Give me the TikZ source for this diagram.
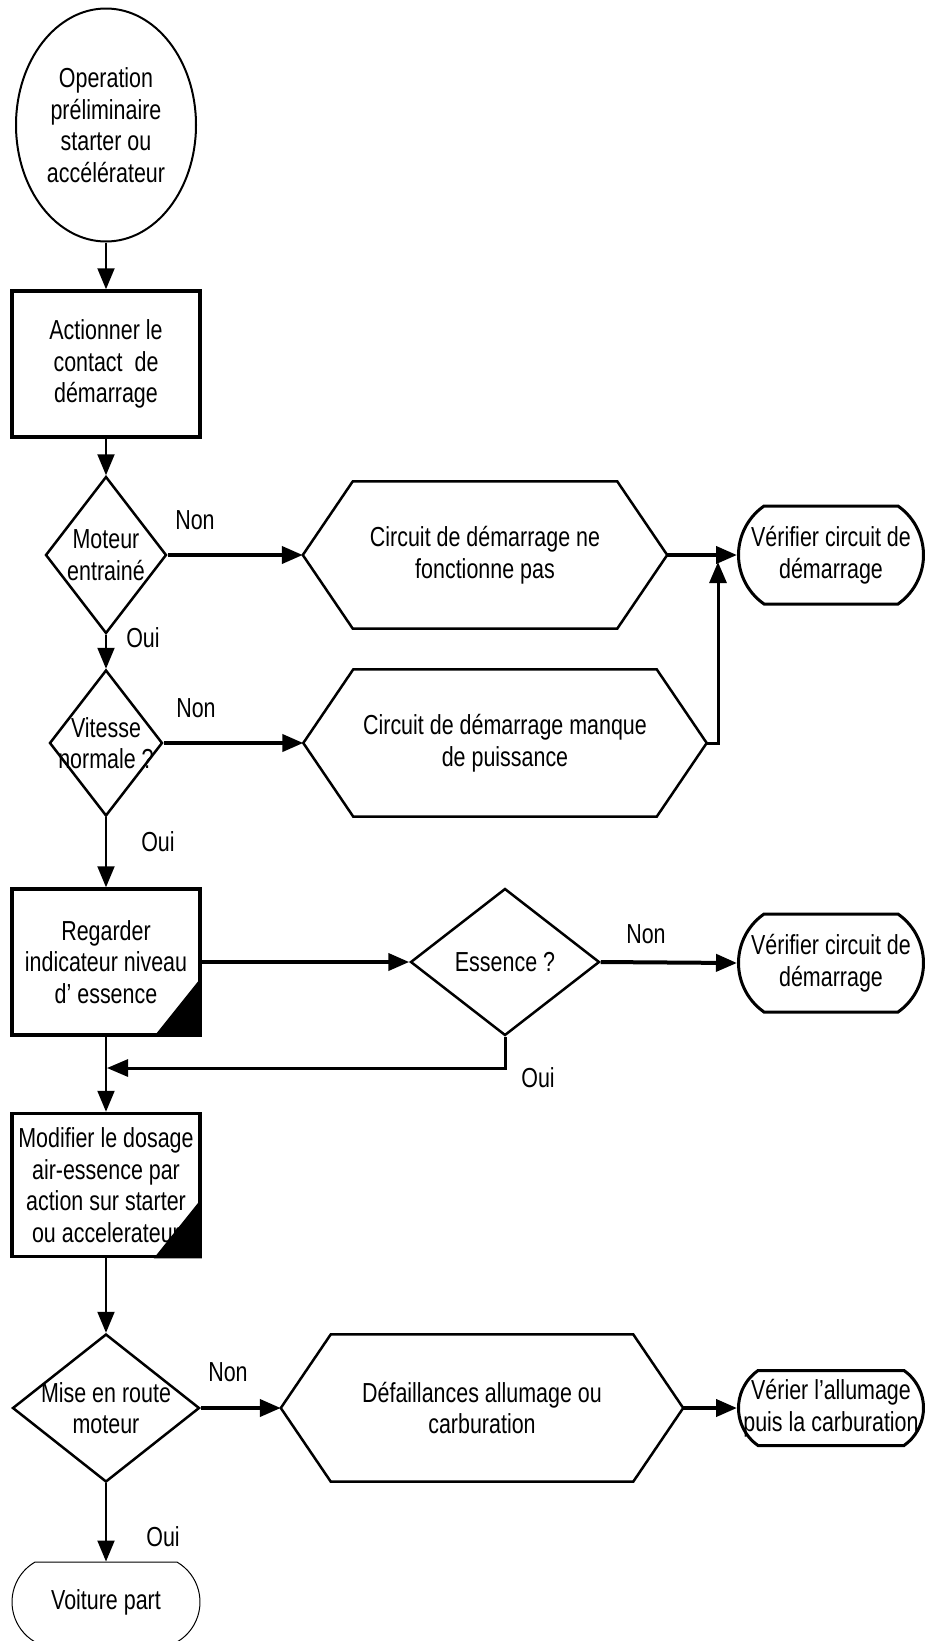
\documentclass[tikz,border=0pt]{standalone}
\usepackage{fontspec}
\setmainfont{Liberation Sans}[FakeStretch=0.78]
\usetikzlibrary{positioning,calc,shapes.geometric,shapes.misc,arrows.meta}
\newcommand{\flowfont}{\fontsize{27.5}{31.5}\selectfont}
\tikzset{
  ovl/.style={ellipse,draw,line width=2pt,minimum width=180pt,minimum height=233pt,inner sep=0pt,align=center,font=\flowfont},
  proc/.style={rectangle,draw,line width=3.5pt,minimum width=188pt,minimum height=146pt,inner sep=0pt,align=center,font=\flowfont},
  dec/.style={diamond,draw,line width=2.5pt,inner sep=0pt},
  hexa/.style={rectangle,minimum height=147pt,inner sep=0pt,align=center,font=\flowfont},
  term/.style={rounded rectangle,rounded rectangle arc length=110,draw,line width=3pt,minimum width=185pt,minimum height=98pt,inner sep=0pt,align=center,font=\flowfont},
  lbl/.style={align=center,font=\flowfont,inner sep=0pt},
  yn/.style={font=\flowfont,inner sep=0pt},
  fl/.style={->,line width=2pt},
  flb/.style={->,line width=4pt},
  >={Triangle[length=21pt,width=17pt]},
}
\begin{document}
\begin{tikzpicture}[x=1pt,y=-1pt]
  \useasboundingbox (0,0) rectangle (925,1641);
  \node[ovl] (S) at (106,125) {Operation\\préliminaire\\starter ou\\accélérateur};
  \node[proc] (A) at (106,364) {Actionner le\\contact~~de\\démarrage};
  \node[dec,minimum width=121pt,minimum height=157pt,label={[lbl]center:Moteur\\entrainé}] (D1) at (106,555) {};
  \node[dec,minimum width=113pt,minimum height=146pt,label={[lbl]center:Vitesse\\normale ?}] (D2) at (106,743) {};
  \node[proc] (B2) at (106,962) {Regarder\\indicateur niveau\\d’ essence};
  \node[dec,minimum width=189pt,minimum height=147pt,label={[lbl]center:Essence ?}] (D3) at (505,962) {};
  \node[proc,minimum height=143pt] (B3) at (106,1185) {Modifier le dosage\\air-essence par\\action sur starter\\ou accelerateur};
  \node[dec,minimum width=187pt,minimum height=148pt,label={[lbl]center:Mise en route\\moteur}] (D4) at (106,1408) {};
  \node[term,line width=1pt,minimum width=188pt,minimum height=80pt,rounded rectangle arc length=120] (VP) at (106,1602) {Voiture part};

  \node[hexa,minimum width=364pt] (H1) at (485,555) {Circuit de démarrage ne\\fonctionne pas};
  \node[hexa,minimum width=403pt] (H2) at (505,743) {Circuit de démarrage manque\\de puissance};
  \node[hexa,minimum width=402pt] (H3) at (482,1408) {Défaillances allumage ou\\carburation};
  \foreach \h in {H1,H2,H3}
    \draw[line width=2.5pt] (\h.west) -- ($(\h.north west)+(50,0)$) -- ($(\h.north east)+(-50,0)$) -- (\h.east) -- ($(\h.south east)+(-50,0)$) -- ($(\h.south west)+(50,0)$) -- cycle;

  \node[term,label={[lbl]center:Vérifier circuit de\\démarrage}] (V1) at (831,555) {};
  \node[term,label={[lbl]center:Vérifier circuit de\\démarrage}] (V2) at (831,963) {};
  \node[term,minimum height=75pt,label={[lbl]center:Vérier l’allumage\\puis la carburation}] (V3) at (831,1408) {};

  \foreach \b in {B2,B3}
    \fill (\b.south east) -- ++(0,-60) -- ($(\b.south east)+(-48,0)$) -- cycle;

  \node[yn] (n1) at (195,520) {Non};
  \node[yn] (o1) at (143,638) {Oui};
  \node[yn] (n2) at (196,708) {Non};
  \node[yn] (o2) at (158,842) {Oui};
  \node[yn] (n3) at (646,934) {Non};
  \node[yn] (o3) at (538,1078) {Oui};
  \node[yn] (n4) at (228,1372) {Non};
  \node[yn] (o4) at (163,1537) {Oui};

  \coordinate (J1) at (718,562);
  \coordinate (J2) at (107,1068);

  \draw[fl] (S.south) -- (A.north);
  \draw[fl] (A.south) -- (D1.north);
  \draw[flb] (D1.east) -- (H1.west);
  \draw[flb] (H1.east) -- (V1.west);
  \draw[fl] (D1.south) -- (D2.north);
  \draw[flb] (D2.east) -- (H2.west);
  \draw[fl,line width=3pt] (H2.east) -| (J1);
  \draw[fl] (D2.south) -- (B2.north);
  \draw[flb] (B2.east) -- (D3.west);
  \draw[flb] (D3.east) -- (V2.west);
  \draw[fl,line width=3pt] (D3.south) |- (J2);
  \draw[fl] (B2.south) -- (B3.north);
  \draw[fl] (B3.south) -- (D4.north);
  \draw[flb] (D4.east) -- (H3.west);
  \draw[flb] (H3.east) -- (V3.west);
  \draw[fl] (D4.south) -- (VP.north);
\end{tikzpicture}
\end{document}
